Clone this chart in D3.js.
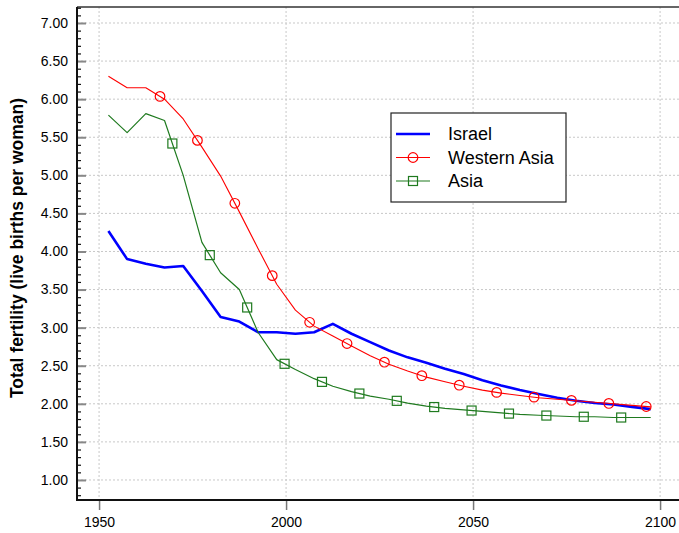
<!DOCTYPE html>
<html><head><meta charset="utf-8">
<script src="https://cdn.jsdelivr.net/npm/d3@7"></script>
<style>body{margin:0;background:#fff}svg{display:block;font-family:"Liberation Sans",Arial,sans-serif}</style>
</head><body><svg id="c" width="679" height="533"></svg>
<script>
const years = [1952.5,1957.5,1962.5,1967.5,1972.5,1977.5,1982.5,1987.5,1992.5,1997.5,2002.5,2007.5,2012.5,2017.5,2022.5,2027.5,2032.5,2037.5,2042.5,2047.5,2052.5,2057.5,2062.5,2067.5,2072.5,2077.5,2082.5,2087.5,2092.5,2097.5];
const israel = [4.27,3.90,3.84,3.79,3.81,3.48,3.14,3.08,2.94,2.94,2.92,2.94,3.05,2.92,2.81,2.70,2.61,2.54,2.46,2.39,2.31,2.24,2.18,2.13,2.08,2.04,2.01,1.99,1.96,1.93];
const westernAsia = [6.30,6.15,6.15,6.00,5.74,5.37,4.99,4.52,4.04,3.57,3.23,3.02,2.89,2.76,2.63,2.52,2.43,2.35,2.29,2.23,2.18,2.14,2.11,2.08,2.06,2.04,2.02,2.00,1.98,1.96];
const asia = [5.79,5.56,5.81,5.72,5.00,4.12,3.72,3.50,2.94,2.58,2.45,2.33,2.23,2.16,2.10,2.06,2.01,1.97,1.94,1.92,1.90,1.88,1.86,1.85,1.84,1.83,1.83,1.82,1.82,1.82];
const seriesNames = ["Israel","Western Asia","Asia"];
const xTicks = [1950,2000,2050,2100];
const yTicks = [1,1.5,2,2.5,3,3.5,4,4.5,5,5.5,6,6.5,7];
const markerStarts = [null, 1966.3, 1969.6]; // first marker year per series (markers every 10 yrs)
const markerStep = 10;

const svg = d3.select("#c");
const L = 77, R = 690, T = 7, B = 500;
const x = d3.scaleLinear().domain([1944.1, 2108.0]).range([L, R]);
const y = d3.scaleLinear().domain([0.737, 7.21]).range([B, T]);

// grid
const grid = svg.append("g").attr("stroke","#c8c8c8").attr("stroke-dasharray","2,2").attr("stroke-width",1);
yTicks.forEach(v => grid.append("line").attr("x1",L).attr("x2",R).attr("y1",y(v)).attr("y2",y(v)));
xTicks.forEach(v => grid.append("line").attr("x1",x(v)).attr("x2",x(v)).attr("y1",T).attr("y2",B));

// frame
svg.append("line").attr("x1",L).attr("x2",R).attr("y1",T).attr("y2",T).attr("stroke","#333").attr("stroke-width",1.5);

// y axis
const yAxis = d3.axisRight(y).tickValues(yTicks).tickSize(9).tickFormat("");
const gy = svg.append("g").attr("transform",`translate(${L},0)`).call(yAxis);
gy.select(".domain").remove();
gy.selectAll(".tick line").attr("stroke","#888").attr("stroke-width",2);
const minor = d3.range(8, 73).map(d => d/10).filter(v => Math.abs(v*2 - Math.round(v*2)) > 1e-6);
const yMinor = d3.axisRight(y).tickValues(minor).tickSize(4).tickFormat("");
const gym = svg.append("g").attr("transform",`translate(${L},0)`).call(yMinor);
gym.select(".domain").remove();
gym.selectAll(".tick line").attr("stroke","#111").attr("stroke-width",1.2);
svg.append("g").selectAll("text").data(yTicks).join("text")
  .attr("x",68).attr("y",d=>y(d)).attr("dy","0.35em").attr("text-anchor","end")
  .attr("font-size",14).attr("fill","#000").text(d=>d3.format(".2f")(d));
svg.append("line").attr("x1",L).attr("x2",L).attr("y1",T).attr("y2",B+1).attr("stroke","#111").attr("stroke-width",2);

// x axis
const xAxis = d3.axisBottom(x).tickValues(xTicks).tickSize(10).tickPadding(7).tickFormat(d3.format("d"));
const gx = svg.append("g").attr("transform",`translate(0,${B})`).call(xAxis);
gx.select(".domain").remove();
gx.selectAll(".tick line").attr("stroke","#777").attr("stroke-width",1.5);
gx.selectAll(".tick text").attr("font-size",14).attr("fill","#000").attr("font-family","Liberation Sans, Arial, sans-serif");
svg.append("line").attr("x1",L-1).attr("x2",R).attr("y1",B).attr("y2",B).attr("stroke","#111").attr("stroke-width",2);

// y label
svg.append("text").attr("transform",`translate(23,248) rotate(-90)`).attr("text-anchor","middle")
  .attr("font-size",17.5).attr("font-weight","bold").attr("fill","#000")
  .text("Total fertility (live births per woman)");

// series
const colors = ["#0000ff","#ff0000","#1f7a1f"];
const widths = [2.6,1.1,1.2];
const data = [israel, westernAsia, asia];
const line = d3.line().x(d=>x(d[0])).y(d=>y(d[1]));
const plot = svg.append("g");
data.forEach((vals,i) => {
  const pts = years.map((yr,j)=>[yr, vals[j]]);
  plot.append("path").datum(pts).attr("d",line).attr("fill","none")
    .attr("stroke",colors[i]).attr("stroke-width",widths[i]).attr("stroke-linejoin","round");
});
function interp(vals, yr){
  for(let j=0;j<years.length-1;j++){
    if(yr>=years[j] && yr<=years[j+1]){
      const t=(yr-years[j])/(years[j+1]-years[j]);
      return vals[j]+t*(vals[j+1]-vals[j]);
    }
  }
  return null;
}
function drawMarker(g, i, cx, cy){
  if(i===1) g.append("circle").attr("cx",cx).attr("cy",cy).attr("r",4.8).attr("fill","none").attr("stroke",colors[i]).attr("stroke-width",1.2);
  if(i===2) g.append("rect").attr("x",cx-4.5).attr("y",cy-4.5).attr("width",9).attr("height",9).attr("fill","none").attr("stroke",colors[i]).attr("stroke-width",1.2);
}
[1,2].forEach(i=>{
  for(let yr=markerStarts[i]; yr<=years[years.length-1]; yr+=markerStep){
    const v = interp(data[i], yr);
    if(v!==null) drawMarker(plot, i, x(yr), y(v));
  }
});

// legend
const lg = svg.append("g");
lg.append("rect").attr("x",391).attr("y",113).attr("width",175).attr("height",89).attr("fill","#fff").attr("stroke","#222").attr("stroke-width",1.2);
seriesNames.forEach((n,i)=>{
  const ly = 134 + i*23.5;
  lg.append("line").attr("x1",396).attr("x2",430).attr("y1",ly).attr("y2",ly).attr("stroke",colors[i]).attr("stroke-width",i===0?2.6:1.2);
  drawMarker(lg, i, 413, ly);
  lg.append("text").attr("x",448).attr("y",ly).attr("dy","0.35em").attr("font-size",18).attr("fill","#000").text(n);
});
</script></body></html>
